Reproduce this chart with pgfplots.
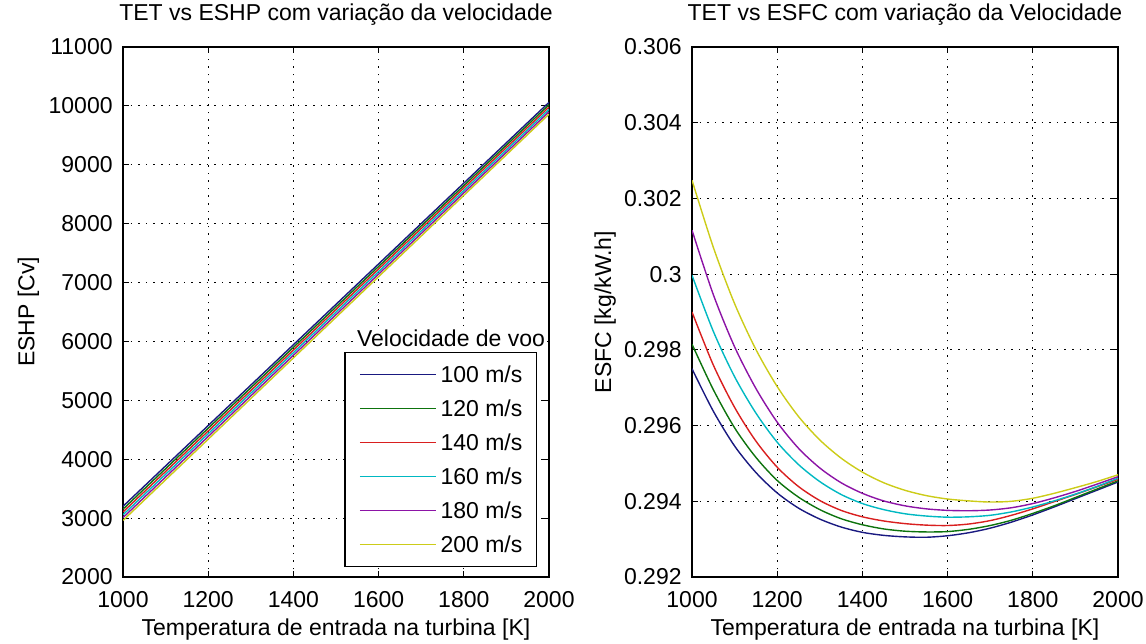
\documentclass[border=0pt]{standalone}
\usepackage{pgfplots}
\usepackage{pgfplotstable}
\pgfplotsset{compat=1.18}
\usepackage{fontspec}
\setmainfont{Liberation Sans}

\definecolor{c100}{rgb}{0.10,0.10,0.50}
\definecolor{c120}{rgb}{0.05,0.45,0.05}
\definecolor{c140}{rgb}{0.85,0.12,0.12}
\definecolor{c160}{rgb}{0.00,0.72,0.76}
\definecolor{c180}{rgb}{0.55,0.08,0.65}
\definecolor{c200}{rgb}{0.80,0.80,0.10}

% ESHP [Cv] vs TET
\pgfplotstableread{
T     v100   v120   v140   v160   v180   v200
1000  3200   3152   3104   3056   3008   2960
1200  4572   4526   4479   4433   4386   4340
1400  5944   5899   5854   5810   5765   5720
1600  7316   7273   7230   7186   7143   7100
1800  8688   8646   8605   8563   8522   8480
2000  10060  10020  9980   9940   9900   9860
}\eshp

% ESFC [kg/kW.h] vs TET
\pgfplotstableread{
T     v100     v120     v140     v160     v180     v200
1000  0.29750  0.29815  0.29900  0.29997  0.30116  0.30248
1050  0.29638  0.29695  0.29760  0.29849  0.29946  0.30071
1100  0.29546  0.29594  0.29648  0.29729  0.29808  0.29922
1150  0.29476  0.29516  0.29559  0.29633  0.29698  0.29801
1200  0.29422  0.29455  0.29490  0.29556  0.29609  0.29703
1250  0.29382  0.29411  0.29439  0.29497  0.29540  0.29624
1300  0.29353  0.29378  0.29402  0.29452  0.29488  0.29562
1350  0.29332  0.29354  0.29376  0.29418  0.29449  0.29514
1400  0.29318  0.29338  0.29359  0.29394  0.29421  0.29477
1450  0.29310  0.29327  0.29348  0.29378  0.29401  0.29449
1500  0.29306  0.29321  0.29341  0.29367  0.29388  0.29429
1550  0.29305  0.29319  0.29337  0.29361  0.29380  0.29415
1600  0.29309  0.29320  0.29336  0.29358  0.29376  0.29406
1650  0.29317  0.29326  0.29340  0.29359  0.29375  0.29401
1700  0.29329  0.29336  0.29349  0.29363  0.29377  0.29398
1750  0.29345  0.29350  0.29363  0.29372  0.29383  0.29400
1800  0.29364  0.29368  0.29380  0.29385  0.29394  0.29408
1850  0.29385  0.29388  0.29399  0.29401  0.29409  0.29421
1900  0.29407  0.29410  0.29418  0.29419  0.29426  0.29436
1950  0.29429  0.29432  0.29438  0.29439  0.29445  0.29452
2000  0.29451  0.29454  0.29458  0.29461  0.29465  0.29470
}\esfc

\pgfplotsset{
  matlab/.style={
    scale only axis, width=213bp, height=265bp,
    xmin=1000, xmax=2000, xtick={1000,1200,...,2000},
    grid=major,
    major grid style={black, line width=0.5bp, dash pattern=on 0.8bp off 3bp},
    axis line style={black, line width=0.8bp},
    every tick/.style={black, line width=0.6bp},
    major tick length=3bp,
    scaled ticks=false,
    /pgf/number format/set thousands separator={},
    tick label style={/pgf/number format/assume math mode=true},
    xticklabel style={anchor=base, yshift=-15bp, inner sep=0pt},
    yticklabel style={anchor=east, xshift=-5bp, inner sep=0pt},
    title style={at={(axis description cs:0.5,1.0283)}, anchor=base, inner sep=0pt},
    xlabel style={at={(axis description cs:0.5,-0.1113)}, anchor=base, inner sep=0pt},
    every axis plot/.append style={line width=0.7bp, mark=none},
    cycle list={{c100},{c120},{c140},{c160},{c180},{c200}},
  }
}

\begin{document}
\fontsize{11.5bp}{13.8bp}\selectfont
\begin{tikzpicture}
\useasboundingbox (0,0) rectangle (573bp,322bp);

\begin{axis}[matlab,
  at={(61.5bp,33.5bp)}, anchor=south west,
  ymin=2000, ymax=11000, ytick={2000,3000,...,11000},
  title={TET vs ESHP com variação da velocidade},
  xlabel={Temperatura de entrada na turbina [K]},
  ylabel={ESHP [Cv]},
  ylabel style={at={(axis description cs:-0.222,0.5)}, anchor=center, inner sep=0pt},
  legend image code/.code={\draw[#1,line width=0.7bp] (0bp,0bp) -- (38bp,0bp);},
  legend cell align=left,
  legend style={at={(0.972,0.0189)}, anchor=south east, draw=black,
    line width=0.7bp, fill=white, inner xsep=7bp, inner ysep=6.75bp,
    row sep=8.5bp, column sep=2bp,
    nodes={inner sep=0pt, text height=8.5bp, text depth=0bp, anchor=west}},
]
\addplot table[x=T, y=v100] {\eshp};
\addplot table[x=T, y=v120] {\eshp};
\addplot table[x=T, y=v140] {\eshp};
\addplot table[x=T, y=v160] {\eshp};
\addplot table[x=T, y=v180] {\eshp};
\addplot table[x=T, y=v200] {\eshp};
\legend{100 m/s,120 m/s,140 m/s,160 m/s,180 m/s,200 m/s}
\node[anchor=base, inner sep=1bp, fill=white] at (axis description cs:0.77,0.434) {Velocidade de voo};
\end{axis}

\begin{axis}[matlab,
  at={(346bp,33.5bp)}, anchor=south west,
  ymin=0.292, ymax=0.306,
  ytick={0.292,0.294,0.296,0.298,0.300,0.302,0.304,0.306},
  yticklabel style={/pgf/number format/fixed, /pgf/number format/precision=3},
  title={TET vs ESFC com variação da Velocidade},
  xlabel={Temperatura de entrada na turbina [K]},
  ylabel={ESFC [kg/kW.h]},
  ylabel style={at={(axis description cs:-0.204,0.5)}, anchor=center, inner sep=0pt},
]
\addplot+[smooth] table[x=T, y=v100] {\esfc};
\addplot+[smooth] table[x=T, y=v120] {\esfc};
\addplot+[smooth] table[x=T, y=v140] {\esfc};
\addplot+[smooth] table[x=T, y=v160] {\esfc};
\addplot+[smooth] table[x=T, y=v180] {\esfc};
\addplot+[smooth] table[x=T, y=v200] {\esfc};
\end{axis}
\end{tikzpicture}
\end{document}
